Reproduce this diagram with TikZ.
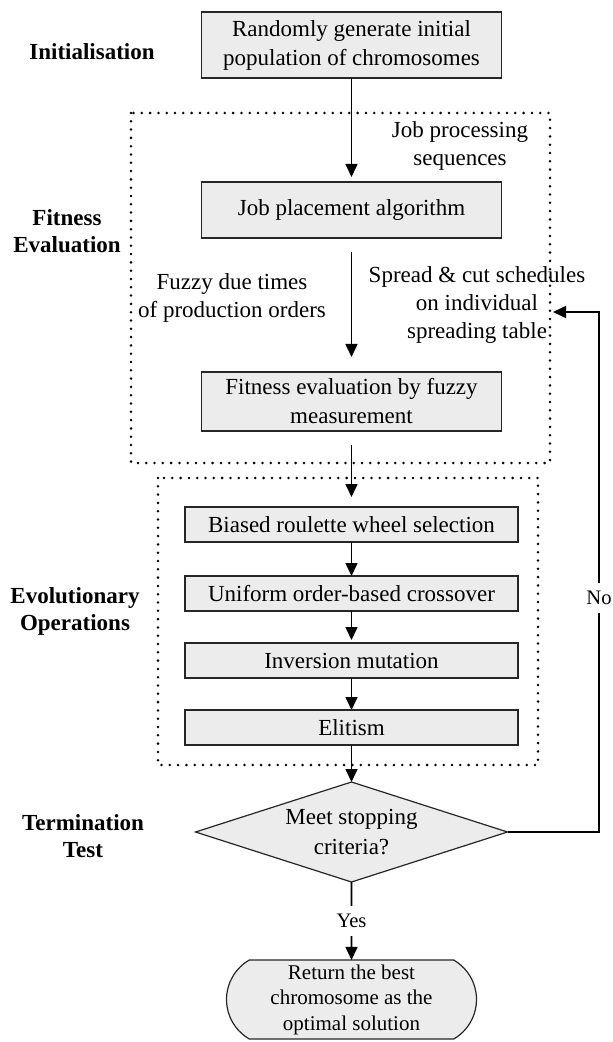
\documentclass[tikz,border=0pt]{standalone}
\usepackage{fontspec}
\setmainfont{Liberation Serif}
\usetikzlibrary{shapes.geometric,shapes.misc,arrows.meta,positioning}
\tikzset{
  b/.style={rectangle,draw=black!85,line width=0.6pt,outer sep=0pt,fill=gray!15,minimum width=150pt,align=center,font=\fontsize{11.5pt}{14.5pt}\selectfont},
  sb/.style={b,minimum width=166.5pt,minimum height=17.5pt,inner sep=1pt},
  dec/.style={diamond,draw=black!85,line width=0.6pt,outer sep=0pt,fill=gray!15,aspect=3.1,inner sep=0pt,minimum width=156pt,minimum height=50pt,align=center,font=\fontsize{11.5pt}{15pt}\selectfont},
  trm/.style={rounded rectangle,rounded rectangle arc length=120,draw=black!85,line width=0.6pt,outer sep=0pt,fill=gray!15,minimum width=127pt,minimum height=39.5pt,inner sep=1pt,align=center,font=\fontsize{10.5pt}{12.75pt}\selectfont},
  stage/.style={align=center,font=\fontsize{11.5pt}{13.5pt}\selectfont\bfseries},
  note/.style={align=center,font=\fontsize{11.5pt}{14pt}\selectfont},
  yn/.style={fill=white,inner xsep=1pt,inner ysep=4pt,font=\fontsize{10.3pt}{12pt}\selectfont},
  arr/.style={-{Triangle[length=6.5pt,width=6pt]},line width=0.8pt},
  grp/.style={line width=1.4pt,line cap=round,dash pattern=on 0pt off 4.15pt},
}
\begin{document}
\begin{tikzpicture}[x=0.5pt,y=-0.5pt]
  \useasboundingbox (0,0) rectangle (612,1042);
  % main flow
  \node[b,minimum height=33pt] (init) at (351.5,45) {Randomly generate initial\\population of chromosomes};
  \node[b,minimum height=28pt,below=52pt of init] (place) {Job placement algorithm};
  \node[b,minimum height=29.5pt,below=67pt of place] (fit) {Fitness evaluation by fuzzy\\measurement};
  \node[sb,below=38pt of fit] (sel) {Biased roulette wheel selection};
  \node[sb,below=17pt of sel] (cross) {Uniform order-based crossover};
  \node[sb,below=16pt of cross] (mut) {Inversion mutation};
  \node[sb,below=16pt of mut] (elit) {Elitism};
  \node[dec,below=18.5pt of elit] (stop) {Meet stopping\\criteria?};
  \node[trm,below=39pt of stop] (ret) {Return the best\\chromosome as the\\optimal solution};
  % stages
  \node[stage] (lInit) at (92,52) {Initialisation};
  \node[stage] (lFit) at (67,231.5) {Fitness\\Evaluation};
  \node[stage] (lEvo) at (75,611.5) {Evolutionary\\Operations};
  \node[stage] (lTerm) at (83,836.5) {Termination\\Test};
  % inputs
  \node[note] (seq) at (460,146) {Job processing\\sequences};
  \node[note] (due) at (232,297.5) {Fuzzy due times\\of production orders};
  \node[note] (spread) at (477,305) {Spread \& cut schedules\\on individual\\spreading table};
  % groups
  \draw[grp] (131,113) rectangle (550,463);
  \draw[grp] (158,478) rectangle (538,765);
  % arrows
  \draw[arr,shorten >=2.5pt] (init) -- (place);
  \draw[arr,shorten <=7pt,shorten >=7.5pt] (place) -- (fit);
  \draw[arr,shorten <=7pt,shorten >=5pt] (fit) -- (sel);
  \draw[arr] (sel) -- (cross);
  \draw[arr,shorten >=1.5pt] (cross) -- (mut);
  \draw[arr] (mut) -- (elit);
  \draw[arr] (elit) -- (stop);
  \draw[arr] (stop) -- node[yn] {Yes} (ret);
  \coordinate (back) at (599,312);
  \coordinate (backin) at (553,312);
  \draw[arr] (stop.east) -| node[yn,pos=0.725] {No} (back) -- (backin);
\end{tikzpicture}
\end{document}
